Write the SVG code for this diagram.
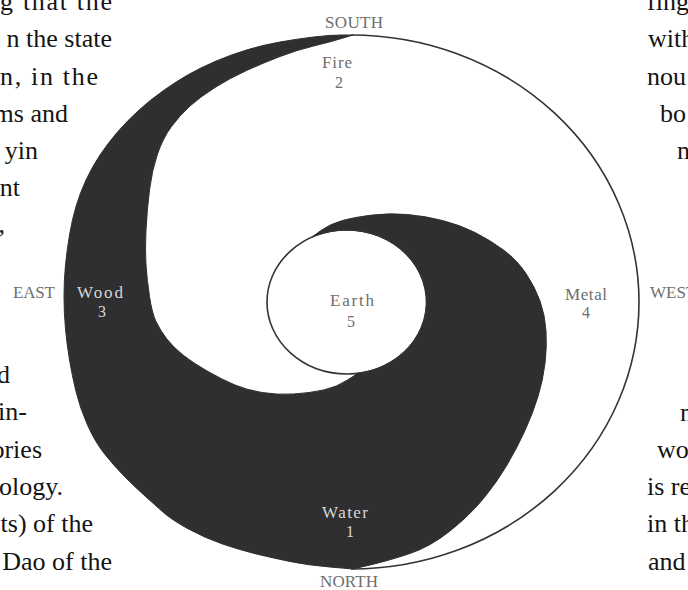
<svg xmlns="http://www.w3.org/2000/svg" width="688" height="590" viewBox="0 0 688 590">
<style>
.page{font-family:"Liberation Serif","Times New Roman",serif;font-size:26px;fill:#141414}
.lbl{font-family:"Liberation Serif","Times New Roman",serif;font-size:17px;fill:#6e6e6e;text-anchor:middle}
.num{font-size:16px}
.inv{fill:#d8d8d8}
.ink{fill:#2f2e30;stroke:#2f2e30;stroke-width:1;stroke-linejoin:round}
.line{fill:none;stroke:#333;stroke-width:1.6}
</style>
<rect width="688" height="590" fill="#fff"/>
<g id="page-text-left" class="page" text-anchor="end">
<text x="112" y="10" textLength="112">g that the</text>
<text x="112" y="47">n the state</text>
<text x="98" y="85" textLength="98">n, in the</text>
<text x="68" y="122">ms and</text>
<text x="38" y="159">yin</text>
<text x="20" y="196">nt</text>
<text x="5" y="233">,</text>
<text x="10" y="383">d</text>
<text x="27" y="420">in-</text>
<text x="42" y="458">ories</text>
<text x="63" y="495">ology.</text>
<text x="93" y="532">ts) of the</text>
<text x="112" y="570">Dao of the</text>
</g>
<g id="page-text-right" class="page">
<text x="647" y="10">fing</text>
<text x="648" y="47">with</text>
<text x="647" y="85">nou</text>
<text x="660" y="122">bo</text>
<text x="677" y="159">n</text>
<text x="680" y="421">n</text>
<text x="657" y="458">wo</text>
<text x="647" y="495">is re</text>
<text x="647" y="532">in th</text>
<text x="648" y="570">and</text>
</g>
<g id="diagram">
<path id="outer-outline" class="line" d="M351,35 A288,267 0 0 1 351,569"/>
<path id="yin" class="ink" d="M353,35 L341.5,35 Q330,35 313.5,37 Q297,39 280,42 Q263,45 246.5,50 Q230,55 215,61.5 Q200,68 188.5,74.5 Q177,81 163.5,90.5 Q150,100 138.5,110.5 Q127,121 117.5,132 Q108,143 100,155 Q92,167 86,180 Q80,193 76,206.5 Q72,220 69.5,235 Q67,250 65.5,265 Q64,280 64,296.5 Q64,313 65.5,329 Q67,345 69.5,360 Q72,375 76,391.5 Q80,408 87.5,425 Q95,442 105,454.5 Q115,467 125,477 Q135,487 145,496 Q155,505 163.5,512.5 Q172,520 188.5,529 Q205,538 222.5,544 Q240,550 256.5,554 Q273,558 290,561.5 Q307,565 330,567 L353,569 L370,565 Q387,561 408.5,554 Q430,547 450,531 Q470,515 483.5,498.5 Q497,482 507,465 Q517,448 525,430.5 Q533,413 538,396.5 Q543,380 545,363.5 Q547,347 546,331 Q545,315 540,301 Q535,287 526,273.5 Q517,260 503.5,250 Q490,240 475,232.5 Q460,225 442.5,220.5 Q425,216 407.5,214.5 Q390,213 372.5,215 Q355,217 342.5,220.5 Q330,224 321,230.5 L312,237 A80,72 0 1 1 358,373.3 L347.5,380 Q337,387 323.5,390 Q310,393 293.5,394 Q277,395 262,392.5 Q247,390 235,385 Q223,380 208,371.5 Q193,363 183,355 Q173,347 166.5,338.5 Q160,330 156,321.5 Q152,313 149.5,296.5 Q147,280 146,265 Q145,250 146,230 Q147,210 149.5,190 Q152,170 157.5,154 Q163,138 171.5,126.5 Q180,115 190,106 Q200,97 215,87.5 Q230,78 246.5,70.5 Q263,63 280,56.5 Q297,50 313.5,46 Q330,42 341.5,38.5 Z"/>
<ellipse id="earth-outline" class="line" cx="347" cy="302" rx="80" ry="72"/>
</g>
<g id="south"><text class="lbl" x="354" y="28" textLength="58">SOUTH</text></g>
<g id="north"><text class="lbl" x="349" y="587" textLength="58">NORTH</text></g>
<g id="east"><text class="lbl" x="34" y="298" textLength="42">EAST</text></g>
<g id="west"><text class="lbl" x="650" y="298" style="text-anchor:start">WEST</text></g>
<g id="fire"><text class="lbl" x="337" y="68" textLength="30">Fire</text><text class="lbl num" x="339" y="88">2</text></g>
<g id="wood"><text class="lbl inv" x="100" y="298" textLength="46">Wood</text><text class="lbl num inv" x="102" y="317">3</text></g>
<g id="earth"><text class="lbl" x="352" y="306" textLength="44">Earth</text><text class="lbl num" x="351" y="327">5</text></g>
<g id="metal"><text class="lbl" x="586" y="300" textLength="42">Metal</text><text class="lbl num" x="586" y="318">4</text></g>
<g id="water"><text class="lbl inv" x="345" y="518" textLength="46">Water</text><text class="lbl num inv" x="350" y="537">1</text></g>
</svg>
